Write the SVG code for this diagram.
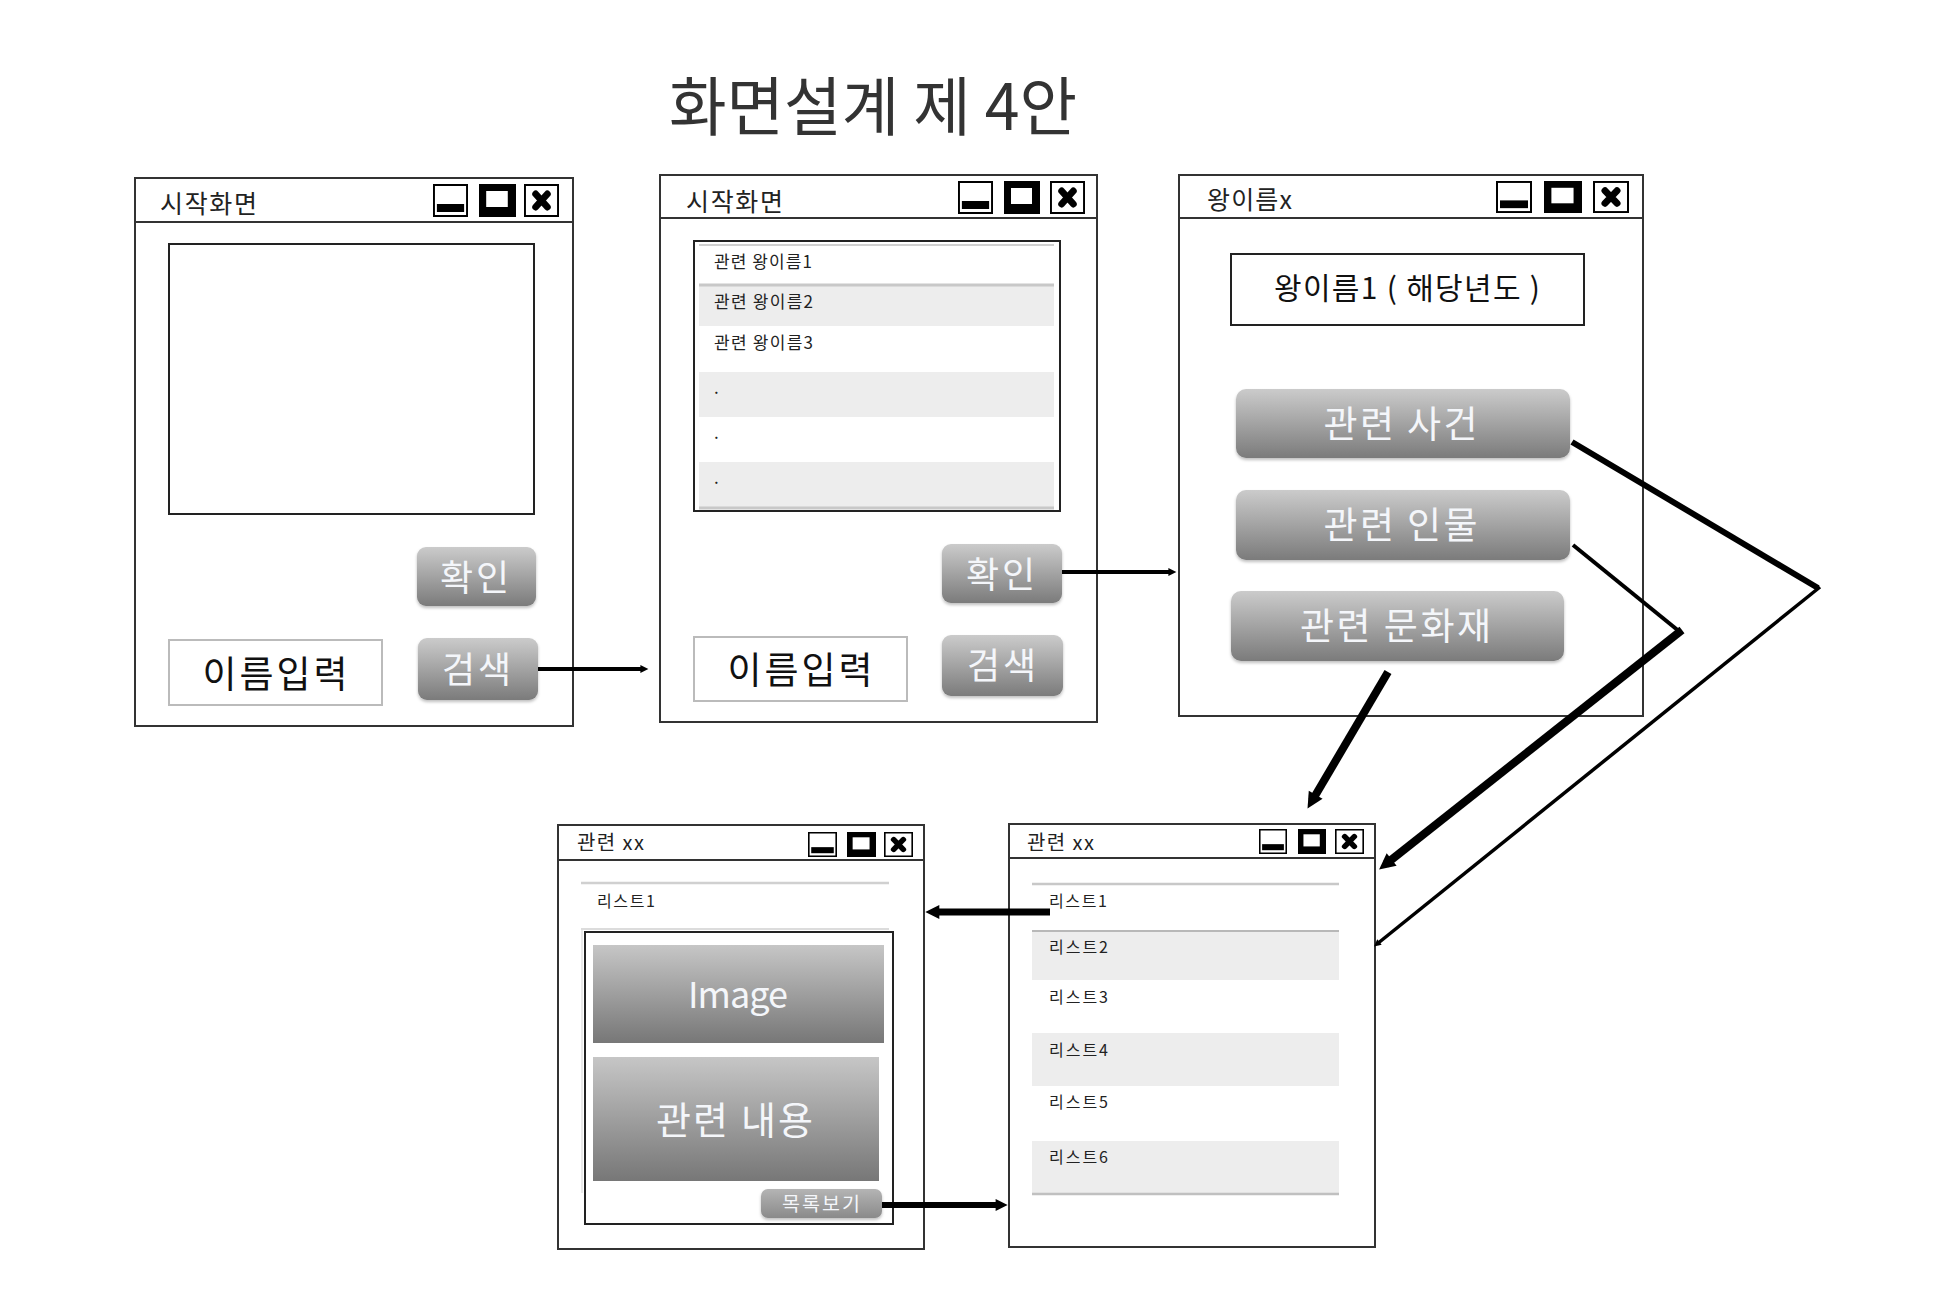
<svg xmlns="http://www.w3.org/2000/svg" xmlns:xlink="http://www.w3.org/1999/xlink" width="1956" height="1308" viewBox="0 0 1956 1308">
<style>
  text { font-family: "Noto Sans CJK KR", "Noto Sans", sans-serif; }
  .win { fill: #fff; stroke: #333; stroke-width: 2; }
  .bar { stroke: #333; stroke-width: 2; }
  .wt { font-size: 25px; fill: #222; }
  .wt2 { font-size: 20px; fill: #222; }
  .btn { fill: url(#gBtn); }
  .btxt { fill: #f4f6fa; text-anchor: middle; }
  .inbox { fill: #fff; stroke: #bbb; stroke-width: 2; }
  .frame { fill: #fff; stroke: #222; stroke-width: 2; }
  .row { fill: #ededed; }
  .sep { stroke: #c8c8c8; stroke-width: 3; }
  .lt { font-size: 17px; fill: #222; }
  .lt2 { font-size: 16px; fill: #222; }
  .big { font-size: 37px; fill: #111; text-anchor: middle; }
  .conn { fill: none; stroke: #000; stroke-linecap: butt; }
</style>
<defs>
  <linearGradient id="gBtn" x1="0" y1="0" x2="0" y2="1">
    <stop offset="0" stop-color="#cbcbcb"/>
    <stop offset="1" stop-color="#7b7b7b"/>
  </linearGradient>
  <linearGradient id="gPanel" x1="0" y1="0" x2="0" y2="1">
    <stop offset="0" stop-color="#c6c6c6"/>
    <stop offset="1" stop-color="#777"/>
  </linearGradient>
  <linearGradient id="gSmall" x1="0" y1="0" x2="0" y2="1">
    <stop offset="0" stop-color="#b4b4b4"/>
    <stop offset="1" stop-color="#8a8a8a"/>
  </linearGradient>
  <filter id="sh" x="-10%" y="-20%" width="120%" height="150%">
    <feDropShadow dx="0" dy="2" stdDeviation="1.5" flood-color="#000" flood-opacity="0.25"/>
  </filter>
  <symbol id="icMin" viewBox="0 0 36 33" preserveAspectRatio="none">
    <rect x="1" y="1" width="34" height="31" fill="#fff" stroke="#000" stroke-width="2"/>
    <rect x="4" y="20" width="28" height="8" fill="#000"/>
  </symbol>
  <symbol id="icMax" viewBox="0 0 36 33" preserveAspectRatio="none">
    <rect x="0" y="0" width="36" height="33" fill="#000"/>
    <rect x="7" y="7" width="21" height="16" fill="#fff"/>
  </symbol>
  <symbol id="icClose" viewBox="0 0 36 33" preserveAspectRatio="none">
    <rect x="1" y="1" width="34" height="31" fill="#fff" stroke="#000" stroke-width="2"/>
    <path d="M12 10 L24 23 M24 10 L12 23" stroke="#000" stroke-width="7" stroke-linecap="round"/>
  </symbol>
  <marker id="ah" viewBox="0 0 2 2" refX="0.9" refY="1" markerWidth="2" markerHeight="2" markerUnits="strokeWidth" orient="auto" overflow="visible">
    <path d="M0,0 L2,1 L0,2 z" fill="#000"/>
  </marker>
</defs>

<rect width="1956" height="1308" fill="#fff"/>

<text id="title" x="669" y="130" font-size="64" fill="#333" textLength="408" lengthAdjust="spacingAndGlyphs">화면설계 제 4안</text>

<!-- Window 1 -->
<g id="win1">
  <rect class="win" x="135" y="178" width="438" height="548"/>
  <line class="bar" x1="135" y1="222" x2="573" y2="222"/>
  <text class="wt" x="160" y="213" textLength="97">시작화면</text>
  <use href="#icMin" x="433" y="184" width="35" height="33"/>
  <use href="#icMax" x="479" y="184" width="37" height="33"/>
  <use href="#icClose" x="524" y="184" width="35" height="33"/>
  <rect class="frame" x="169" y="244" width="365" height="270"/>
  <rect class="btn" filter="url(#sh)" x="417" y="547" width="119" height="59" rx="9"/>
  <text class="btxt" x="476" y="591" font-size="36" letter-spacing="3">확인</text>
  <rect class="inbox" x="169" y="640" width="213" height="65"/>
  <text class="big" x="275" y="688" textLength="145">이름입력</text>
  <rect class="btn" filter="url(#sh)" x="418" y="638" width="120" height="62" rx="9"/>
  <text class="btxt" x="478" y="683" font-size="36" letter-spacing="3">검색</text>
</g>

<!-- Window 2 -->
<g id="win2">
  <rect class="win" x="660" y="175" width="437" height="547"/>
  <line class="bar" x1="660" y1="218" x2="1097" y2="218"/>
  <text class="wt" x="686" y="211" textLength="97">시작화면</text>
  <use href="#icMin" x="958" y="181" width="35" height="33"/>
  <use href="#icMax" x="1004" y="181" width="36" height="33"/>
  <use href="#icClose" x="1050" y="181" width="35" height="33"/>
  <rect class="frame" x="694" y="241" width="366" height="270"/>
  <line x1="699" y1="245" x2="1054" y2="245" stroke="#d0d0d0" stroke-width="2"/>
  <rect class="row" x="699" y="286" width="355" height="40"/>
  <line class="sep" x1="699" y1="285" x2="1054" y2="285"/>
  <rect class="row" x="699" y="372" width="355" height="45"/>
  <rect class="row" x="699" y="462" width="355" height="45"/>
  <line class="sep" x1="699" y1="508" x2="1054" y2="508"/>
  <text class="lt" x="714" y="268" textLength="98">관련 왕이름1</text>
  <text class="lt" x="714" y="308" textLength="99">관련 왕이름2</text>
  <text class="lt" x="714" y="349" textLength="99">관련 왕이름3</text>
  <text class="lt" x="714" y="394">.</text>
  <text class="lt" x="714" y="439">.</text>
  <text class="lt" x="714" y="484">.</text>
  <rect class="btn" filter="url(#sh)" x="942" y="544" width="120" height="59" rx="9"/>
  <text class="btxt" x="1002" y="588" font-size="36" letter-spacing="3">확인</text>
  <rect class="inbox" x="694" y="637" width="213" height="64"/>
  <text class="big" x="800" y="684" textLength="145">이름입력</text>
  <rect class="btn" filter="url(#sh)" x="942" y="635" width="121" height="61" rx="9"/>
  <text class="btxt" x="1003" y="679" font-size="36" letter-spacing="3">검색</text>
</g>

<!-- Window 3 -->
<g id="win3">
  <rect class="win" x="1179" y="175" width="464" height="541"/>
  <line class="bar" x1="1179" y1="218" x2="1643" y2="218"/>
  <text class="wt" x="1207" y="209" textLength="85">왕이름x</text>
  <use href="#icMin" x="1496" y="181" width="36" height="32"/>
  <use href="#icMax" x="1544" y="181" width="38" height="32"/>
  <use href="#icClose" x="1593" y="181" width="36" height="32"/>
  <rect class="frame" x="1231" y="254" width="353" height="71"/>
  <text x="1407" y="299" font-size="30" fill="#111" text-anchor="middle" textLength="266">왕이름1 ( 해당년도 )</text>
  <rect class="btn" filter="url(#sh)" x="1236" y="389" width="334" height="69" rx="10"/>
  <text class="btxt" x="1402" y="438" font-size="37" letter-spacing="3" textLength="157">관련 사건</text>
  <rect class="btn" filter="url(#sh)" x="1236" y="490" width="334" height="70" rx="10"/>
  <text class="btxt" x="1402" y="539" font-size="37" letter-spacing="3" textLength="157">관련 인물</text>
  <rect class="btn" filter="url(#sh)" x="1231" y="591" width="333" height="70" rx="10"/>
  <text class="btxt" x="1397" y="640" font-size="37" letter-spacing="3" textLength="194">관련 문화재</text>
</g>

<!-- Window 4 -->
<g id="win4">
  <rect class="win" x="558" y="825" width="366" height="424"/>
  <line class="bar" x1="558" y1="860" x2="924" y2="860"/>
  <text class="wt2" x="577" y="850" textLength="67">관련 xx</text>
  <use href="#icMin" x="808" y="832" width="29" height="25"/>
  <use href="#icMax" x="847" y="832" width="29" height="25"/>
  <use href="#icClose" x="884" y="832" width="29" height="25"/>
  <line x1="581" y1="883" x2="889" y2="883" stroke="#d0d0d0" stroke-width="2.5"/>
  <text class="lt2" x="597" y="907" textLength="58">리스트1</text>
  <line x1="581" y1="929" x2="889" y2="929" stroke="#dcdcdc" stroke-width="2"/>
  <line x1="582" y1="930" x2="582" y2="1193" stroke="#e2e2e2" stroke-width="1.5"/>
  <rect class="frame" x="585" y="932" width="308" height="292"/>
  <rect x="593" y="945" width="291" height="98" fill="url(#gPanel)"/>
  <text x="738" y="1008" font-family="Open Sans, Noto Sans, sans-serif" font-size="36" fill="#f4f6fa" text-anchor="middle" textLength="100">Image</text>
  <rect x="593" y="1057" width="286" height="124" fill="url(#gPanel)"/>
  <text class="btxt" x="736" y="1134" font-size="38" letter-spacing="3" textLength="160">관련 내용</text>
  <rect x="761" y="1189" width="121" height="29" rx="7" fill="url(#gSmall)" filter="url(#sh)"/>
  <text class="btxt" x="821" y="1211" font-size="19.5" textLength="78">목록보기</text>
</g>

<!-- Window 5 -->
<g id="win5">
  <rect class="win" x="1009" y="824" width="366" height="423"/>
  <line class="bar" x1="1009" y1="858" x2="1375" y2="858"/>
  <text class="wt2" x="1027" y="850" textLength="67">관련 xx</text>
  <use href="#icMin" x="1259" y="829" width="28" height="25"/>
  <use href="#icMax" x="1298" y="829" width="28" height="25"/>
  <use href="#icClose" x="1335" y="829" width="29" height="25"/>
  <line x1="1032" y1="884" x2="1339" y2="884" stroke="#c8c8c8" stroke-width="2.5"/>
  <rect class="row" x="1032" y="932" width="307" height="48"/>
  <line x1="1032" y1="931" x2="1339" y2="931" stroke="#b8b8b8" stroke-width="2"/>
  <rect class="row" x="1032" y="1033" width="307" height="53"/>
  <rect class="row" x="1032" y="1141" width="307" height="52"/>
  <line x1="1032" y1="1194" x2="1339" y2="1194" stroke="#c0c0c0" stroke-width="2.5"/>
  <text class="lt2" x="1049" y="907" textLength="58">리스트1</text>
  <text class="lt2" x="1049" y="953" textLength="59">리스트2</text>
  <text class="lt2" x="1049" y="1003" textLength="59">리스트3</text>
  <text class="lt2" x="1049" y="1056" textLength="59">리스트4</text>
  <text class="lt2" x="1049" y="1108" textLength="59">리스트5</text>
  <text class="lt2" x="1049" y="1163" textLength="59">리스트6</text>
</g>

<!-- Connectors -->
<g id="connectors">
  <line class="conn" x1="538" y1="669" x2="644" y2="669" stroke-width="4" marker-end="url(#ah)"/>
  <line class="conn" x1="1062" y1="572" x2="1172" y2="572" stroke-width="4" marker-end="url(#ah)"/>
  <line class="conn" x1="1572" y1="442" x2="1818" y2="588" stroke-width="6"/>
  <line class="conn" x1="1820" y1="587" x2="1377" y2="944" stroke-width="3.5" marker-end="url(#ah)"/>
  <line class="conn" x1="1573" y1="545" x2="1680" y2="632" stroke-width="4"/>
  <line class="conn" x1="1682" y1="630" x2="1386" y2="864" stroke-width="8" marker-end="url(#ah)"/>
  <line class="conn" x1="1388" y1="672" x2="1312" y2="801" stroke-width="8" marker-end="url(#ah)"/>
  <line class="conn" x1="1050" y1="912" x2="933" y2="912" stroke-width="7" marker-end="url(#ah)"/>
  <line class="conn" x1="882" y1="1205" x2="1001" y2="1205" stroke-width="6" marker-end="url(#ah)"/>
</g>
</svg>
